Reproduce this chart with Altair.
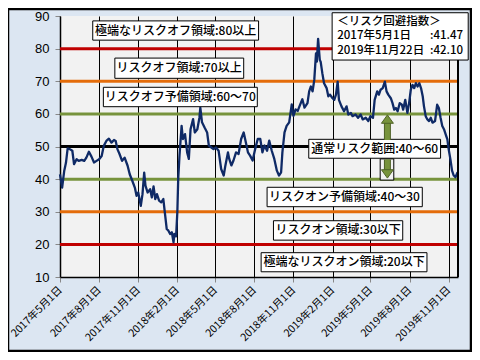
import altair as alt
import pandas as pd

dates = [
    "2017-05-01", "2017-05-06", "2017-05-11", "2017-05-15", "2017-05-19", "2017-05-24", "2017-05-30",
    "2017-06-03", "2017-06-09", "2017-06-14", "2017-06-21", "2017-06-27", "2017-07-02", "2017-07-08",
    "2017-07-14", "2017-07-20", "2017-07-26", "2017-08-01", "2017-08-07", "2017-08-12", "2017-08-18",
    "2017-08-24", "2017-08-30", "2017-09-05", "2017-09-09", "2017-09-13", "2017-09-18", "2017-09-24",
    "2017-09-30", "2017-10-07", "2017-10-12", "2017-10-18", "2017-10-24", "2017-10-28", "2017-11-01",
    "2017-11-07", "2017-11-11", "2017-11-15", "2017-11-18", "2017-11-23", "2017-11-29", "2017-12-03",
    "2017-12-07", "2017-12-11", "2017-12-15", "2017-12-20", "2017-12-25", "2017-12-30",
    "2018-01-03", "2018-01-07", "2018-01-11", "2018-01-15", "2018-01-19", "2018-01-23", "2018-01-25",
    "2018-01-29", "2018-02-01", "2018-02-03", "2018-02-06", "2018-02-11", "2018-02-14", "2018-02-19",
    "2018-02-24", "2018-02-28", "2018-03-04", "2018-03-10", "2018-03-14", "2018-03-20", "2018-03-25",
    "2018-03-27", "2018-03-31", "2018-04-06", "2018-04-12", "2018-04-16", "2018-04-22", "2018-04-27",
    "2018-05-03", "2018-05-09", "2018-05-15", "2018-05-21", "2018-05-25", "2018-05-31", "2018-06-03",
    "2018-06-08", "2018-06-13", "2018-06-19", "2018-06-25", "2018-07-01", "2018-07-07", "2018-07-12",
    "2018-07-17", "2018-07-22", "2018-07-28", "2018-08-03", "2018-08-09", "2018-08-15", "2018-08-20",
    "2018-08-25", "2018-08-31", "2018-09-05", "2018-09-11", "2018-09-17", "2018-09-23", "2018-09-28",
    "2018-10-03", "2018-10-06", "2018-10-11", "2018-10-16", "2018-10-22", "2018-10-28", "2018-11-01",
    "2018-11-06", "2018-11-11", "2018-11-17", "2018-11-22", "2018-11-27", "2018-12-04", "2018-12-08",
    "2018-12-12", "2018-12-16", "2018-12-20", "2018-12-24", "2018-12-26", "2018-12-29",
    "2019-01-02", "2019-01-04", "2019-01-08", "2019-01-12", "2019-01-18", "2019-01-22", "2019-01-26",
    "2019-02-01", "2019-02-05", "2019-02-09", "2019-02-13", "2019-02-16", "2019-02-22", "2019-02-28",
    "2019-03-06", "2019-03-10", "2019-03-16", "2019-03-20", "2019-03-27", "2019-04-02", "2019-04-08",
    "2019-04-13", "2019-04-20", "2019-04-26", "2019-05-01", "2019-05-07", "2019-05-11", "2019-05-17",
    "2019-05-21", "2019-05-25", "2019-05-30", "2019-06-04", "2019-06-08", "2019-06-12", "2019-06-18",
    "2019-06-22", "2019-06-26", "2019-06-30", "2019-07-04", "2019-07-09", "2019-07-14", "2019-07-17",
    "2019-07-22", "2019-07-27", "2019-07-31", "2019-08-04", "2019-08-08", "2019-08-12", "2019-08-16",
    "2019-08-20", "2019-08-24", "2019-08-28", "2019-09-01", "2019-09-04", "2019-09-08", "2019-09-12",
    "2019-09-16", "2019-09-20", "2019-09-24", "2019-09-30", "2019-10-05", "2019-10-09", "2019-10-13",
    "2019-10-17", "2019-10-21", "2019-10-25", "2019-10-29", "2019-11-01", "2019-11-05", "2019-11-09",
    "2019-11-13", "2019-11-17", "2019-11-22",
]
values = [
    41.47, 37.4, 42.6, 45.0, 49.4, 49.2, 48.7,
    44.6, 46.1, 45.6, 45.9, 45.6, 46.6, 48.4,
    46.9, 45.1, 45.6, 46.1, 47.1, 50.2, 51.7,
    52.4, 51.2, 52.0, 51.7, 49.2, 47.7, 45.6,
    46.6, 44.1, 41.5, 39.5, 37.4, 34.9, 35.9,
    31.8, 35.4, 42.0, 38.0, 35.9, 36.9, 34.4,
    37.8, 33.9, 35.4, 33.4, 32.9, 33.9,
    29.3, 24.7, 24.2, 23.2, 23.7, 20.6, 23.2,
    22.5, 30.0, 40.0, 47.2, 56.3, 52.3, 53.8,
    48.2, 46.2, 55.3, 58.4, 54.3, 55.3, 58.9,
    61.9, 57.4, 55.8, 54.3, 50.3, 49.7, 49.2,
    49.7, 48.7, 43.1, 41.1, 44.2, 48.2, 46.2,
    44.2, 45.7, 48.2, 47.7, 52.3, 54.3, 51.3,
    48.2, 47.2, 45.7, 49.2, 52.3, 52.3, 48.2,
    50.3, 48.7, 51.8, 48.7, 46.2, 42.6, 41.1,
    42.1, 48.2, 54.3, 56.3, 57.4, 62.9, 59.4,
    61.4, 60.9, 62.9, 64.5, 61.9, 63.3, 66.9,
    68.4, 66.9, 70.4, 78.5, 76.0, 83.0,
    76.5, 76.0, 72.4, 69.4, 67.9, 65.4, 65.9,
    64.8, 64.3, 65.9, 69.9, 64.3, 62.3, 60.8,
    62.3, 59.8, 60.3, 59.3, 59.8, 58.8, 59.8,
    58.3, 58.8, 57.8, 59.3, 58.8, 64.3, 66.9,
    65.9, 67.4, 67.9, 69.9, 66.9, 65.9, 64.8,
    63.3, 61.3, 61.8, 60.8, 63.3, 62.8, 61.3,
    64.3, 60.3, 63.3, 67.4, 68.9, 67.9, 69.4,
    68.4, 69.4, 67.9, 65.4, 62.3, 59.3, 58.3,
    57.8, 58.8, 57.3, 57.8, 62.8, 61.8, 58.8,
    56.3, 55.3, 53.7, 52.2, 49.2, 46.2, 42.6,
    41.1, 40.6, 42.10,
]

levels = [80, 70, 60, 50, 40, 30, 20]
level_colors = ["#c00000", "#e46c0a", "#77933c", "#000000", "#77933c", "#e46c0a", "#c00000"]

tick_dates = ["2017-05-01", "2017-08-01", "2017-11-01", "2018-02-01", "2018-05-01", "2018-08-01",
              "2018-11-01", "2019-02-01", "2019-05-01", "2019-08-01", "2019-11-01"]
tick_labels = ["2017年5月1日", "2017年8月1日", "2017年11月1日", "2018年2月1日", "2018年5月1日",
               "2018年8月1日", "2018年11月1日", "2019年2月1日", "2019年5月1日", "2019年8月1日",
               "2019年11月1日"]
y_ticks = [10, 20, 30, 40, 50, 60, 70, 80, 90]
x_domain = ["2017-05-01", "2019-11-23"]

box_texts = ["極端なリスクオフ領域:80以上", "リスクオフ領域:70以上", "リスクオフ予備領域:60～70",
             "通常リスク範囲:40～60", "リスクオン予備領域:40～30", "リスクオン領域:30以下",
             "極端なリスクオン領域:20以下"]
box_start = ["2017-07-17", "2017-09-07", "2017-08-11", "2018-12-07", "2018-08-31", "2018-09-15", "2018-08-17"]
box_end = ["2018-08-11", "2018-07-07", "2018-08-08", "2019-10-13", "2019-08-31", "2019-07-16", "2019-09-11"]
box_top = [88.5, 77.1, 68.15, 52.2, 37.5, 27.25, 17.45]
box_bottom = [82.6, 70.9, 62.2, 46.4, 31.55, 21.3, 11.6]

legend_title = "＜リスク回避指数＞"
legend_dates = ["2017年5月1日", "2019年11月22日"]
legend_values = [":41.47", ":42.10"]

FONT = "Noto Sans CJK JP"
GREEN = "#77933c"


def ms(s):
    return int(pd.Timestamp(s, tz="UTC").value // 10**6)


tick_ms = [ms(d) for d in tick_dates]
label_expr = "[" + ",".join(f"'{t}'" for t in tick_labels) + "][indexof([" + \
    ",".join(str(t) for t in tick_ms) + "], time(datum.value))]"

xscale = alt.Scale(type="utc", domain=[ms(d) for d in x_domain], nice=False)
yscale = alt.Scale(domain=[10, 90], nice=False, zero=False)

series = pd.DataFrame({"date": dates, "value": values})
rules_df = pd.DataFrame({"level": levels, "color": level_colors})
boxes = pd.DataFrame({"text": box_texts, "x1": box_start, "x2": box_end, "y1": box_top, "y2": box_bottom})
boxes["xm"] = (pd.to_datetime(boxes["x1"]) + (pd.to_datetime(boxes["x2"]) - pd.to_datetime(boxes["x1"])) / 2).dt.strftime("%Y-%m-%d")
boxes["ym"] = (boxes["y1"] + boxes["y2"]) / 2

X = lambda f: alt.X(f, type="temporal", scale=xscale, title=None, axis=None)
Y = lambda f: alt.Y(f, type="quantitative", scale=yscale, title=None, axis=None)

one = alt.Data(values=[{"a": 1}])

frame = alt.Chart(one).mark_rect(fillOpacity=0, stroke="#000000", strokeWidth=2.5).encode(
    x=alt.value(-52), x2=alt.value(411), y=alt.value(-7), y2=alt.value(335))

level_rules = alt.Chart(rules_df).mark_rule(strokeWidth=3).encode(
    y=Y("level"), color=alt.Color("color:N", scale=None))

line = alt.Chart(series).mark_line(color="#0f2a66", strokeWidth=2.3, strokeJoin="round").encode(
    x=alt.X("date:T", scale=xscale, title=None,
            axis=alt.Axis(values=tick_ms, labelExpr=label_expr, grid=True, gridColor="#000000",
                          gridWidth=1, gridOpacity=1, domainColor="#000000", domainWidth=1.5,
                          tickColor="#888888", tickSize=5, labelAngle=-45, labelAlign="right",
                          labelBaseline="middle", labelFont=FONT, labelFontSize=10.5,
                          labelColor="#000000", labelPadding=6, labelOverlap=False,
                          labelFlush=False, labelBound=False)),
    y=alt.Y("value:Q", scale=yscale, title=None,
            axis=alt.Axis(values=y_ticks, grid=False, domainColor="#000000", domainWidth=1.5,
                          tickColor="#888888", tickSize=5, labelFont="Liberation Sans",
                          labelFontSize=13, labelColor="#000000", labelPadding=6,
                          labelOverlap=False, labelFlush=False)),
)

right_border = alt.Chart(one).mark_rule(color="#000000", strokeWidth=2).encode(
    x=alt.value(398), y=alt.value(0), y2=alt.value(261))

box_rects = alt.Chart(boxes).mark_rect(fill="#ffffff", stroke="#000000", strokeWidth=1).encode(
    x=X("x1"), x2="x2", y=Y("y1"), y2="y2")
box_labels = alt.Chart(boxes).mark_text(font=FONT, fontSize=12, fontWeight=500, color="#000000",
                                        align="center", baseline="middle").encode(
    x=X("xm"), y=Y("ym"), text="text:N")

# legend box
leg_rect_df = pd.DataFrame({"x1": ["2019-01-31"], "x2": ["2019-12-17"], "y1": [91.0], "y2": [76.5]})
leg_rect = alt.Chart(leg_rect_df).mark_rect(fill="#ffffff", stroke="#000000", strokeWidth=1).encode(
    x=X("x1"), x2="x2", y=Y("y1"), y2="y2")
leg_left_df = pd.DataFrame({"t": [legend_title] + legend_dates, "x": ["2019-02-12"] * 3,
                            "y": [88.3, 83.8, 79.3]})
leg_left = alt.Chart(leg_left_df).mark_text(font=FONT, fontSize=11.5, fontWeight=500, color="#000000",
                                            align="left", baseline="middle").encode(
    x=X("x"), y=Y("y"), text="t:N")
leg_right_df = pd.DataFrame({"t": legend_values, "x": ["2019-12-05"] * 2, "y": [83.8, 79.3]})
leg_right = alt.Chart(leg_right_df).mark_text(font=FONT, fontSize=11.5, fontWeight=500, color="#000000",
                                              align="right", baseline="middle").encode(
    x=X("x"), y=Y("y"), text="t:N")

# arrows
arrow_x = "2019-06-10"
down_box_df = pd.DataFrame({"x1": ["2019-05-24"], "x2": ["2019-06-25"], "y1": [46.2], "y2": [39.7]})
down_box = alt.Chart(down_box_df).mark_rect(fill="#f2f2f2", stroke="#000000", strokeWidth=1).encode(
    x=X("x1"), x2="x2", y=Y("y1"), y2="y2")
shafts_df = pd.DataFrame({"x": [arrow_x, arrow_x], "y1": [52.0, 46.0], "y2": [57.3, 42.8]})
shaft_out = alt.Chart(shafts_df).mark_rule(color="#4f6228", strokeWidth=7).encode(
    x=X("x"), y=Y("y1"), y2="y2")
shafts = alt.Chart(shafts_df).mark_rule(color=GREEN, strokeWidth=5).encode(
    x=X("x"), y=Y("y1"), y2="y2")
up_head = alt.Chart(pd.DataFrame({"x": [arrow_x], "y": [58.4]})).mark_point(
    shape="M0,-0.7L1,0.7L-1,0.7Z", size=144, filled=True, fill=GREEN, stroke="#4f6228",
    strokeWidth=1, opacity=1).encode(x=X("x"), y=Y("y"))
down_head = alt.Chart(pd.DataFrame({"x": [arrow_x], "y": [41.6]})).mark_point(
    shape="M0,0.7L1,-0.7L-1,-0.7Z", size=144, filled=True, fill=GREEN, stroke="#4f6228",
    strokeWidth=1, opacity=1).encode(x=X("x"), y=Y("y"))

chart = alt.layer(
    level_rules, line, frame, right_border, box_rects, box_labels,
    leg_rect, leg_left, leg_right, down_box, shaft_out, shafts, up_head, down_head,
).resolve_axis(x="independent", y="independent").properties(
    width=398, height=261,
    autosize=alt.AutoSizeParams(type="none"),
    padding={"left": 52, "top": 8, "right": 14, "bottom": 75},
).configure(background="#dce6f2").configure_view(strokeWidth=0, fill="#f2f2f2")

chart.save("out.html", embed_options={"renderer": "svg", "actions": False})
